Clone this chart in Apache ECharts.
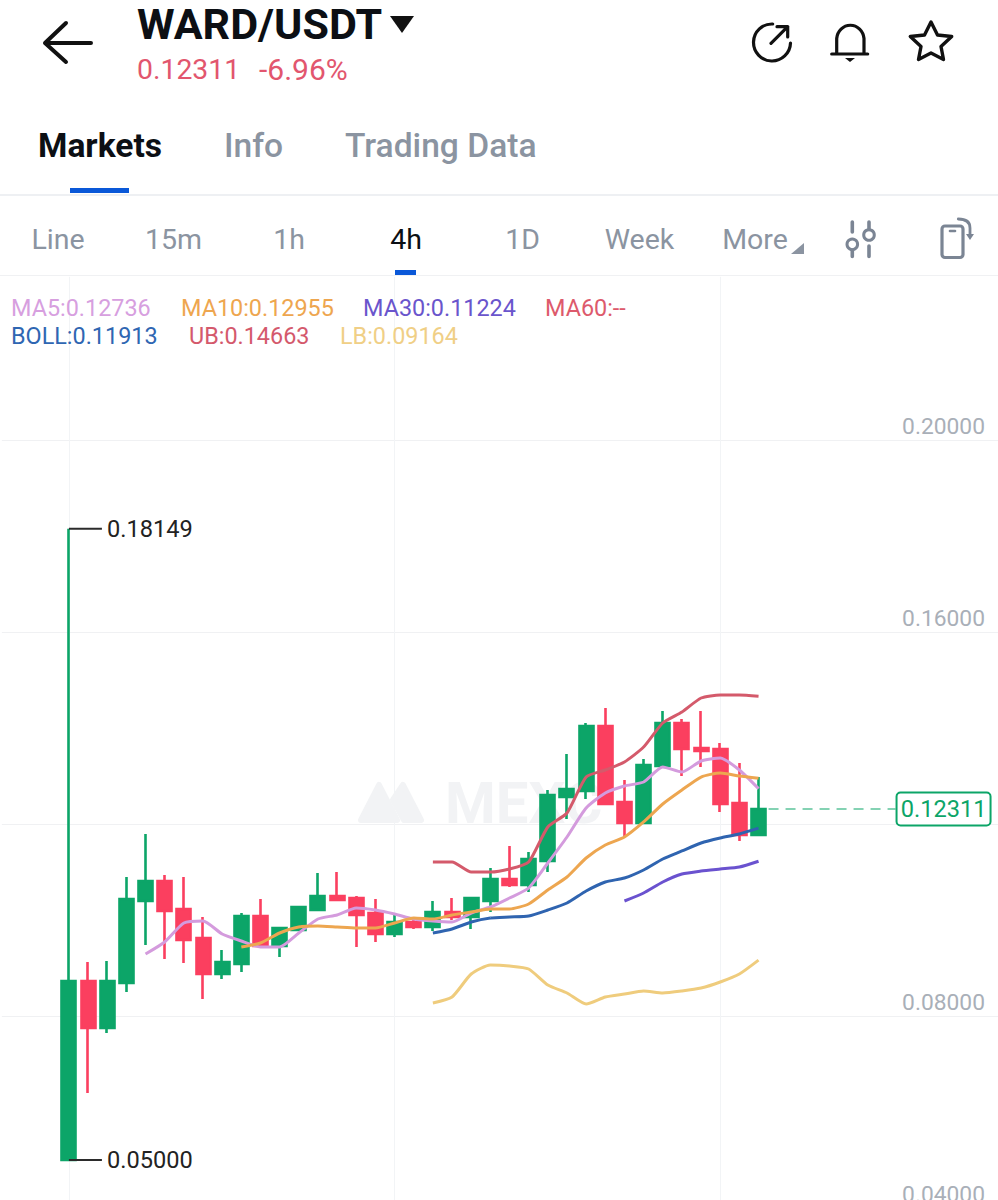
<!DOCTYPE html>
<html><head><meta charset="utf-8">
<script src="https://cdn.jsdelivr.net/npm/echarts@6/dist/echarts.min.js"></script>
<style>html,body{margin:0;padding:0;background:#fff;overflow:hidden;width:998px;height:1200px}#c{width:998px;height:1208px}</style>
</head><body><div id="c"></div>
<script>
// ---- data ----
const opens  = [0.05000,0.08729,0.07750,0.08688,0.10396,0.10813,0.10229,0.09625,0.08875,0.09083,0.10083,0.09458,0.09792,0.10208,0.10500,0.10458,0.10146,0.09708,0.09958,0.09854,0.10167,0.10063,0.10396,0.10854,0.10729,0.11229,0.12563,0.12688,0.14042,0.12458,0.12021,0.13208,0.14104,0.13583,0.13563,0.12438,0.11771];
const closes = [0.08729,0.07750,0.08729,0.10438,0.10813,0.10188,0.09583,0.08875,0.09125,0.10083,0.09458,0.09833,0.10271,0.10500,0.10417,0.10104,0.09708,0.09958,0.09854,0.10167,0.10063,0.10458,0.10854,0.10729,0.11271,0.12604,0.12729,0.14042,0.12417,0.12021,0.13229,0.14104,0.13563,0.13521,0.12417,0.11771,0.12311];
const lows   = [0.05000,0.06396,0.07646,0.08500,0.09479,0.09188,0.09104,0.08354,0.08771,0.08917,0.09458,0.09229,0.09792,0.10208,0.10396,0.09438,0.09542,0.09646,0.09813,0.09771,0.10000,0.09813,0.10167,0.10688,0.10583,0.11000,0.12104,0.12521,0.12396,0.11750,0.12021,0.13208,0.13000,0.13188,0.12250,0.11646,0.11771];
const highs  = [0.18149,0.09125,0.09146,0.10896,0.11792,0.10938,0.10896,0.10063,0.09375,0.10146,0.10438,0.09833,0.10292,0.10979,0.11000,0.10500,0.10438,0.10104,0.10063,0.10396,0.10458,0.10458,0.11083,0.11542,0.11417,0.12708,0.13458,0.14104,0.14417,0.12917,0.13354,0.14354,0.14188,0.14354,0.13688,0.13271,0.12979];

const ma5Start = 4;
const ma5 = [0.09292,0.09542,0.09938,0.09979,0.09708,0.09563,0.09438,0.09438,0.09729,0.10021,0.10104,0.10250,0.10208,0.10125,0.10021,0.09979,0.09958,0.10146,0.10271,0.10458,0.10667,0.11188,0.11729,0.12333,0.12646,0.12792,0.12875,0.13188,0.13083,0.13313,0.13375,0.13125,0.12736];
const ma10Start = 9;
const ma10 = [0.09438,0.09521,0.09729,0.09854,0.09875,0.09854,0.09833,0.09833,0.09938,0.10042,0.10021,0.10104,0.10167,0.10229,0.10229,0.10333,0.10625,0.10896,0.11292,0.11563,0.11729,0.12042,0.12417,0.12708,0.12979,0.13063,0.13000,0.12955];
const ma30Start = 29;
const ma30 = [0.10396,0.10563,0.10792,0.10958,0.11021,0.11063,0.11104,0.11224];
const bollStart = 19;
const boll = [0.09729,0.09813,0.09958,0.10042,0.10063,0.10083,0.10208,0.10354,0.10604,0.10792,0.10875,0.11042,0.11271,0.11438,0.11604,0.11708,0.11792,0.11913];
const ub = [0.11208,0.11208,0.11000,0.11000,0.11063,0.11208,0.11938,0.12229,0.12979,0.13125,0.13292,0.13604,0.14104,0.14333,0.14625,0.14688,0.14688,0.14663];
const lb = [0.08271,0.08396,0.08875,0.09063,0.09042,0.08979,0.08646,0.08479,0.08250,0.08396,0.08458,0.08521,0.08479,0.08521,0.08583,0.08708,0.08875,0.09164];

const leadingSlots = 3, slotCount = 52;
const categories = Array.from({length: slotCount}, (_, i) => String(i + 1));
const extremes = [[leadingSlots, 0.18149, '0.18149'], [leadingSlots, 0.05000, '0.05000']];
const lastPrice = [[leadingSlots + 36, 0.12311, '0.12311']];
const yTicks = {min: 0.04, max: 0.234, interval: 0.04};

const legendRow1 = [['MA5:0.12736', 11, '#d79fdf'], ['MA10:0.12955', 181, '#eea64f'], ['MA30:0.11224', 363, '#6a55cc'], ['MA60:--', 545, '#dd5a6c']];
const legendRow2 = [['BOLL:0.11913', 11, '#2f66b2'], ['UB:0.14663', 189, '#d4596c'], ['LB:0.09164', 340, '#f0cf86']];
const periods = [['Line', 58, '#8b94a1'], ['15m', 173.5, '#8b94a1'], ['1h', 289, '#8b94a1'], ['4h', 406, '#0c0f14'], ['1D', 522.5, '#8b94a1'], ['Week', 639.5, '#8b94a1'], ['More', 755, '#8b94a1']];
const tabs = [['Markets', 38, '#0c0f14', 700], ['Info', 224, '#8b94a1', 500], ['Trading Data', 345, '#8b94a1', 500]];

// ---- drawing ----
const GREEN = '#0ca568', RED = '#fb3f5f';
const FONT = 'Roboto, "Noto Sans", sans-serif';
const pad = (arr, start) => new Array(start + leadingSlots).fill(null).concat(arr);
const emptyCandles = Array.from({length: leadingSlots}, () => ['-', '-', '-', '-']);
const lineSeries = (name, arr, start, color) => ({
  name, type: 'line', data: pad(arr, start), symbol: 'none', smooth: 0.2, z: 5,
  lineStyle: {color, width: 3}, connectNulls: false, silent: true
});
const txt = (text, x, y, size, color, weight, align) => ({
  type: 'text', x, y, silent: true, z: 20,
  style: {text, fontSize: size, fontFamily: FONT, fontWeight: weight || 400, fill: color, align: align || 'left', verticalAlign: 'middle'}
});
const ICON = '#111111', GREY = '#7b8594', WM = '#f2f3f5';
const stroke = (c, w) => ({stroke: c, lineWidth: w, fill: 'none', lineCap: 'round', lineJoin: 'round'});
let iconId = 0;
const path = (d, c, w) => {
  const name = 'icon' + (iconId++);
  echarts.graphic.registerShape(name, echarts.graphic.extendPath(d, {}));
  return {type: name, silent: true, z: 20, shape: {}, style: stroke(c, w)};
};
const rect = (x, y, w, h, c, z) => ({type: 'rect', silent: true, z: z || 20, shape: {x, y, width: w, height: h}, style: {fill: c}});
const tri = (pts, c) => ({type: 'polygon', silent: true, z: 20, shape: {points: pts}, style: {fill: c}});

const graphics = [
  path('M66 23 L45 43 L66 62 M46 43 L91 43', ICON, 4),
  txt('WARD/USDT', 137, 24, 43, '#0c0f14', 700),
  tri([[390, 16], [414, 16], [402, 33]], '#111'),
  txt('0.12311', 137, 69.5, 28.4, '#e2566e'),
  txt('-6.96%', 259, 69.5, 30, '#e2566e'),
  path('M772.7 24 A18.5 18.5 0 1 0 790.5 43 M771 43.3 L787.7 26.7 M777 26.7 L787.7 26.7 L787.7 37', ICON, 3.2),
  path('M836.7 54 L836.7 38.5 A13.7 14.5 0 0 1 864 38.5 L864 54 M831.7 54 L867.7 54', ICON, 3.2),
  tri([[845, 58], [855, 58], [850, 62]], ICON),
  path('M931 22 L937.5 35 L951.7 36.5 L941 46.5 L943.5 59.5 L931 53 L918.5 59.5 L921 46.5 L910.3 36.5 L924.5 35 Z', ICON, 3.4),
  rect(70, 188, 59, 5, '#0a58d8'),
  rect(0, 194, 998, 2, '#eef0f3', 19),
  rect(395, 270, 21, 5, '#0a58d8'),
  rect(0, 275, 998, 1, '#f0f1f3', 19),
  tri([[804, 243], [804, 254], [791, 254]], '#8b94a1'),
  path('M852.3 222 L852.3 232 M852.3 250 L852.3 256.5 M869 222 L869 229 M869 246 L869 256.5', GREY, 3.6),
  {type: 'circle', silent: true, z: 20, shape: {cx: 852.3, cy: 244.3, r: 5.3}, style: stroke(GREY, 3)},
  {type: 'circle', silent: true, z: 20, shape: {cx: 869, cy: 235, r: 5.3}, style: stroke(GREY, 3)},
  {type: 'rect', silent: true, z: 20, shape: {x: 942, y: 226, width: 21, height: 31.5, r: 3}, style: stroke(GREY, 3.2)},
  path('M950 231 L955 231', GREY, 2.6),
  path('M958.3 219 C966 219 970 222 970 228 L970 235', GREY, 2.8),
  tri([[966, 234], [974, 234], [970, 240]], GREY),
  // watermark
  {type: 'polygon', silent: true, z: 1, shape: {points: [[361, 820], [379, 785], [397, 820]]}, style: {fill: WM, stroke: WM, lineWidth: 6, lineJoin: 'round'}},
  {type: 'polygon', silent: true, z: 1, shape: {points: [[393, 800], [403, 785], [421, 820], [404, 820]]}, style: {fill: WM, stroke: WM, lineWidth: 6, lineJoin: 'round'}},
  {type: 'text', x: 445, y: 803, silent: true, z: 1, style: {text: 'MEXC', fontSize: 58, fontFamily: FONT, fontWeight: 700, fill: WM, verticalAlign: 'middle'}}
];
tabs.forEach(t => graphics.push(txt(t[0], t[1], 145.5, 33.6, t[2], t[3])));
periods.forEach(p => graphics.push(txt(p[0], p[1], 239.5, 28.5, p[2], 400, 'center')));
legendRow1.forEach(l => graphics.push(txt(l[0], l[1], 308, 23.4, l[2])));
legendRow2.forEach(l => graphics.push(txt(l[0], l[1], 336, 23.4, l[2])));

const chart = echarts.init(document.getElementById('c'), null, {renderer: 'svg', width: 998, height: 1208});
chart.setOption({
  animation: false,
  backgroundColor: '#ffffff',
  graphic: graphics,
  grid: {left: 1.86, right: 0, top: 276.8, bottom: 0, containLabel: false},
  xAxis: {
    type: 'category', data: categories, boundaryGap: true,
    axisLine: {show: false}, axisTick: {show: false}, axisLabel: {show: false},
    splitLine: {show: true, interval: i => i >= leadingSlots && (i - leadingSlots) % 17 === 0, alignWithLabel: true, lineStyle: {color: '#f2f4f6', width: 1}}
  },
  yAxis: {
    type: 'value', position: 'right', scale: true,
    min: yTicks.min, max: yTicks.max, interval: yTicks.interval,
    axisLine: {show: false}, axisTick: {show: false},
    axisLabel: {
      inside: true, margin: 13, color: '#a9afb8', fontSize: 22.8, fontFamily: FONT,
      verticalAlign: 'bottom', padding: [0, 0, 2, 0], showMaxLabel: false, showMinLabel: true,
      // the 0.12000 label sits behind the last-price box in the reference
      formatter: v => Math.abs(v - lastPrice[0][1]) < 0.01 ? '' : v.toFixed(5)
    },
    splitLine: {show: true, showMaxLine: false, lineStyle: {color: '#f0f1f3', width: 1}}
  },
  series: [
    {
      name: 'WARD/USDT', type: 'candlestick', barWidth: 14.5, z: 3, silent: true,
      data: emptyCandles.concat(opens.map((o, i) => [o, closes[i], lows[i], highs[i]])),
      itemStyle: {color: GREEN, color0: RED, borderColor: GREEN, borderColor0: RED, borderWidth: 2.6}
    },
    lineSeries('MA5', ma5, ma5Start, '#d49bdd'),
    lineSeries('MA10', ma10, ma10Start, '#eda650'),
    lineSeries('MA30', ma30, ma30Start, '#6a52cf'),
    lineSeries('BOLL', boll, bollStart, '#2f64b0'),
    lineSeries('UB', ub, bollStart, '#d45a6b'),
    lineSeries('LB', lb, bollStart, '#efcc7d'),
    {
      type: 'custom', silent: true, z: 6, data: extremes, encode: {x: 0, y: 1},
      renderItem: (p, api) => {
        const c = api.coord([api.value(0), api.value(1)]);
        return {type: 'group', children: [
          {type: 'line', shape: {x1: c[0], y1: c[1], x2: c[0] + 33, y2: c[1]}, style: {stroke: '#2b2b2b', lineWidth: 2}},
          {type: 'text', x: c[0] + 38, y: c[1], style: {text: extremes[p.dataIndex][2], fontSize: 23.6, fontFamily: FONT, fill: '#222', verticalAlign: 'middle'}}
        ]};
      }
    },
    {
      type: 'custom', silent: true, z: 6, data: lastPrice, encode: {x: 0, y: 1},
      renderItem: (p, api) => {
        const c = api.coord([api.value(0), api.value(1)]);
        return {type: 'group', children: [
          {type: 'line', shape: {x1: c[0] + 10, y1: c[1], x2: c[0] + 137, y2: c[1]}, style: {stroke: '#5cc39b', lineWidth: 1.5, lineDash: [10, 7]}},
          {type: 'rect', shape: {x: c[0] + 138, y: c[1] - 16.5, width: 94, height: 33, r: 4}, style: {fill: '#fff', stroke: GREEN, lineWidth: 2}},
          {type: 'text', x: c[0] + 185, y: c[1], style: {text: lastPrice[0][2], fontSize: 23.6, fontFamily: FONT, fill: GREEN, align: 'center', verticalAlign: 'middle'}}
        ]};
      }
    }
  ]
});
</script></body></html>
